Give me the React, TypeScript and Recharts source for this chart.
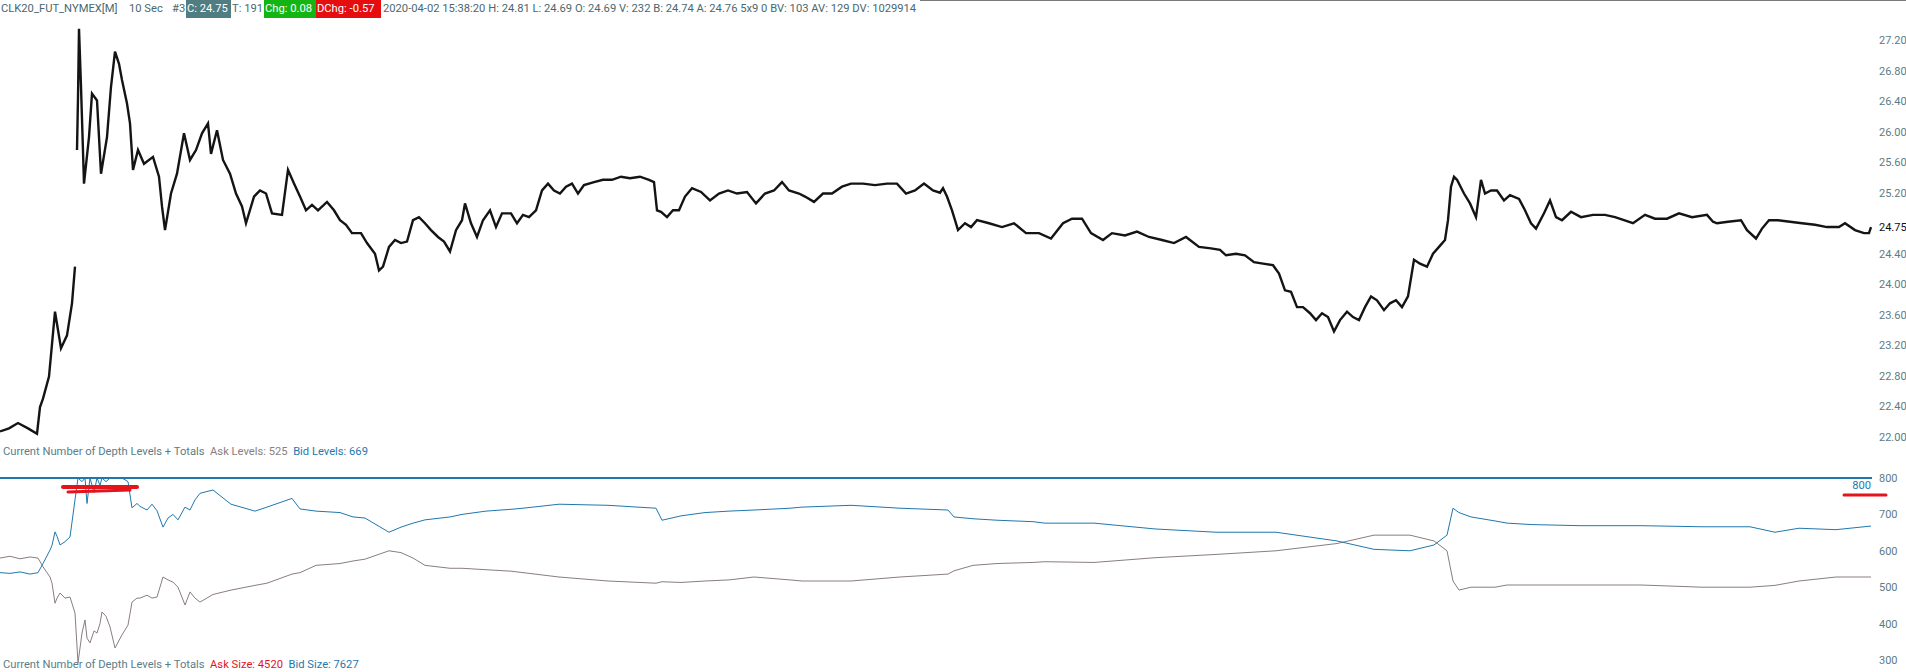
import { Line, LineChart, ReferenceLine, XAxis, YAxis } from "recharts";

// 10 sec bars, bar index along the session
const priceBar = [
  0, 9, 18, 28, 37, 40, 43, 49, 55, 61, 67, 72, 75, 76,
  77, 78, 79, 81, 84, 89, 92, 97, 101, 107, 111, 115, 119, 122, 127, 130, 133, 138, 144, 153, 159, 162, 165,
  171, 177, 184, 190, 196, 202, 208, 211, 217, 223, 230, 236, 242, 246, 254, 260, 266, 272, 282, 288, 294,
  300, 306, 312, 318, 327, 334, 340, 346, 352, 361, 367, 375, 379, 383, 389, 395, 401, 407, 413, 419, 425,
  431, 438, 444, 450, 456, 462, 465, 471, 477, 483, 490, 496, 502, 511, 517, 523, 529, 536, 542, 548, 554,
  560, 566, 572, 578, 584, 594, 603, 612, 621, 630, 640, 649, 654, 657, 661, 667, 673, 679, 685, 692, 701,
  710, 719, 728, 737, 747, 756, 765, 774, 782, 789, 799, 805, 814, 823, 832, 842, 851, 863, 875, 887, 897,
  906, 915, 924, 933, 940, 943, 947, 952, 955, 958, 965, 971, 977, 989, 1002, 1014, 1026, 1039, 1051, 1063,
  1072, 1082, 1091, 1103, 1112, 1125, 1137, 1149, 1162, 1174, 1186, 1199, 1211, 1220, 1226, 1236, 1245,
  1254, 1263, 1273, 1279, 1285, 1291, 1297, 1303, 1310, 1316, 1322, 1328, 1334, 1340, 1347, 1353, 1359,
  1365, 1371, 1377, 1384, 1390, 1396, 1402, 1408, 1414, 1420, 1427, 1433, 1439, 1445, 1448, 1451, 1454,
  1457, 1464, 1470, 1476, 1481, 1485, 1491, 1497, 1504, 1510, 1519, 1525, 1531, 1536, 1544, 1550, 1556,
  1562, 1571, 1581, 1593, 1605, 1615, 1624, 1633, 1645, 1655, 1667, 1679, 1692, 1707, 1713, 1717, 1728,
  1741, 1747, 1756, 1762, 1769, 1778, 1790, 1802, 1815, 1827, 1839, 1845, 1855, 1864, 1869, 1871,
];

const priceClose: (number | null)[] = [
  22.07, 22.11, 22.18, 22.11, 22.04, 22.39, 22.5, 22.79, 23.64, 23.16, 23.33, 23.75, 24.23, null,
  25.76, 26.45, 27.35, 26.59, 25.32, 25.93, 26.5, 26.41, 25.45, 25.93, 26.59, 27.05, 26.89, 26.68, 26.37, 26.11, 25.5, 25.76, 25.58, 25.67, 25.41, 25.02, 24.71,
  25.19, 25.45, 25.98, 25.63, 25.76, 25.98, 26.11, 25.71, 26.02, 25.63, 25.45, 25.19, 25.02, 24.8, 25.15, 25.23, 25.19, 24.93, 24.91, 25.5, 25.32,
  25.15, 24.97, 25.04, 24.97, 25.08, 24.97, 24.84, 24.78, 24.67, 24.67, 24.54, 24.4, 24.18, 24.23, 24.49, 24.58, 24.54, 24.56, 24.84, 24.88, 24.8,
  24.71, 24.62, 24.56, 24.43, 24.71, 24.84, 25.06, 24.8, 24.62, 24.84, 24.97, 24.75, 24.93, 24.93, 24.8, 24.91, 24.88, 24.97, 25.23, 25.32, 25.23,
  25.19, 25.28, 25.32, 25.19, 25.3, 25.34, 25.37, 25.37, 25.41, 25.39, 25.41, 25.37, 25.34, 24.97, 24.95, 24.88, 24.97, 24.97, 25.15, 25.26, 25.21,
  25.1, 25.19, 25.23, 25.19, 25.21, 25.06, 25.19, 25.23, 25.34, 25.23, 25.19, 25.15, 25.08, 25.19, 25.19, 25.28, 25.32, 25.32, 25.3, 25.32, 25.32,
  25.19, 25.23, 25.32, 25.23, 25.2, 25.26, 25.15, 24.97, 24.84, 24.71, 24.8, 24.75, 24.84, 24.8, 24.75, 24.8, 24.67, 24.67, 24.6, 24.8,
  24.86, 24.86, 24.67, 24.58, 24.67, 24.64, 24.69, 24.62, 24.58, 24.54, 24.62, 24.49, 24.47, 24.45, 24.38, 24.4, 24.38,
  24.29, 24.27, 24.25, 24.14, 23.92, 23.9, 23.7, 23.7, 23.62, 23.53, 23.62, 23.57, 23.38, 23.53, 23.64, 23.57, 23.53,
  23.7, 23.84, 23.79, 23.66, 23.75, 23.79, 23.7, 23.84, 24.32, 24.27, 24.23, 24.4, 24.49, 24.58, 24.84, 25.28, 25.41,
  25.37, 25.19, 25.06, 24.88, 25.37, 25.19, 25.23, 25.23, 25.1, 25.17, 25.12, 24.97, 24.8, 24.73, 24.93, 25.1, 24.88,
  24.84, 24.95, 24.88, 24.91, 24.91, 24.88, 24.84, 24.8, 24.91, 24.86, 24.86, 24.93, 24.88, 24.91, 24.82, 24.8, 24.82,
  24.84, 24.71, 24.6, 24.73, 24.84, 24.84, 24.82, 24.8, 24.78, 24.75, 24.75, 24.8, 24.71, 24.67, 24.67, 24.75,
];

const priceTicks = [27.2, 26.8, 26.4, 26.0, 25.6, 25.2, 24.75, 24.4, 24.0, 23.6, 23.2, 22.8, 22.4, 22.0];
const lastPrice = 24.75;

const depthBar = [
  0, 10, 20, 30, 38, 43, 50, 52, 55, 57, 60, 65, 70, 75, 78, 82, 85, 87, 90, 94, 97, 100, 102, 106, 110, 115,
  122, 128, 132, 137, 140, 147, 152, 157, 163, 168, 173, 178, 185, 190, 195, 200, 213, 231, 255, 267, 292, 300,
  316, 340, 353, 365, 389, 401, 413, 425, 450, 462, 486, 511, 523, 559, 608, 656, 662, 681, 705, 729, 754, 790,
  802, 851, 900, 948, 954, 973, 997, 1033, 1045, 1094, 1155, 1216, 1276, 1337, 1374, 1410, 1434, 1447, 1453,
  1459, 1471, 1495, 1507, 1532, 1580, 1641, 1702, 1750, 1775, 1799, 1836, 1871,
];
const askLevels = [
  580, 585, 578, 583, 580, 556, 528, 511, 456, 470, 484, 470, 473, 429, 292, 374, 410, 360, 347, 380, 374, 400, 432, 420, 391, 333,
  369, 396, 459, 470, 470, 478, 470, 473, 528, 520, 514, 500, 451, 487, 470, 459, 480, 492, 505, 511, 536, 540,
  560, 565, 572, 577, 600, 595, 580, 560, 552, 552, 548, 544, 540, 528, 517, 511, 515, 513, 517, 520, 528, 520,
  517, 517, 528, 536, 545, 560, 565, 568, 570, 568, 581, 590, 600, 620, 643, 643, 627, 600, 517,
  492, 500, 500, 506, 506, 506, 506, 500, 500, 505, 517, 528, 528,
];
// bid levels are pinned at the 800 display limit in the early part
const bidLevels = [
  540, 538, 542, 536, 540, 565, 602, 615, 652, 640, 616, 625, 638, 740, 800, 790, 800, 730, 800, 760, 800, 780, 800, 790, 800, 800,
  800, 790, 718, 730, 722, 712, 728, 710, 665, 690, 700, 685, 720, 712, 740, 758, 767, 728, 709, 720, 744, 715,
  709, 705, 693, 690, 651, 665, 676, 685, 693, 700, 709, 714, 717, 728, 725, 717, 684, 696, 705, 709, 712, 717,
  720, 725, 717, 712, 693, 688, 684, 680, 676, 676, 660, 651, 651, 627, 604, 600, 616, 643, 717,
  705, 693, 682, 676, 672, 669, 669, 666, 666, 651, 662, 658, 668,
];
const depthTicks = [800, 700, 600, 500, 400, 300];
const levelLimit = 800;

const priceData = priceBar.map((bar, i) => ({ bar, close: priceClose[i] }));
const depthData = depthBar.map((bar, i) => ({ bar, ask: askLevels[i], bid: bidLevels[i] }));

const FONT = "Roboto, 'Segoe UI', sans-serif";
const AXIS_GREY = "#5d7b84";
const BID_BLUE = "#1f78ad";
const ASK_GREY = "#8a7e7e";

function PriceTick({ x, y, payload }: any) {
  const isLast = payload.value === lastPrice;
  return (
    <text x={x} y={y} dy="0.36em" fontSize={11} fontFamily={FONT} fill={isLast ? "#111" : AXIS_GREY}>
      {Number(payload.value).toFixed(2)}
    </text>
  );
}

function DepthTick({ x, y, payload }: any) {
  return (
    <text x={x} y={y} dy="0.36em" fontSize={11} fontFamily={FONT} fill={AXIS_GREY}>
      {payload.value}
    </text>
  );
}

function LimitLabel({ viewBox }: any) {
  return (
    <text x={viewBox.x + viewBox.width - 1} y={viewBox.y + 11} textAnchor="end" fontSize={11.2} fontFamily={FONT} fill={BID_BLUE}>
      {levelLimit}
    </text>
  );
}

const box = (bg: string) => ({
  position: "absolute" as const,
  top: 0,
  height: 18,
  lineHeight: "18px",
  background: bg,
  color: "#fff",
  paddingLeft: 1,
});

function Header() {
  const txt = { position: "absolute" as const, top: 0, lineHeight: "18px", color: "#4a6870", whiteSpace: "pre" as const };
  return (
    <div style={{ position: "absolute", left: 0, top: 0, width: 1906, height: 18, fontSize: 11.2, fontFamily: FONT }}>
      <div style={{ position: "absolute", left: 920, top: 0, width: 986, height: 1, background: "#7a7a7a" }} />
      <span style={{ ...txt, left: 1 }}>CLK20_FUT_NYMEX[M]</span>
      <span style={{ ...txt, left: 129 }}>10 Sec</span>
      <span style={{ ...txt, left: 172 }}>#3</span>
      <span style={{ ...box("#4f7d82"), left: 186, width: 44 }}>C: 24.75</span>
      <span style={{ ...txt, left: 232 }}>T: 191</span>
      <span style={{ ...box("#12b512"), left: 264, width: 51 }}>Chg: 0.08</span>
      <span style={{ ...box("#e50d0d"), left: 316, width: 64 }}>DChg: -0.57</span>
      <span style={{ ...txt, left: 383 }}>
        2020-04-02 15:38:20 H: 24.81 L: 24.69 O: 24.69 V: 232 B: 24.74 A: 24.76 5x9 0 BV: 103 AV: 129 DV: 1029914
      </span>
    </div>
  );
}

function StudyTitle({ top, parts }: { top: number; parts: [string, string][] }) {
  return (
    <div style={{ position: "absolute", left: 3, top, fontSize: 11.2, fontFamily: FONT, whiteSpace: "pre", lineHeight: "12px" }}>
      {parts.map(([t, c], i) => (
        <span key={i} style={{ color: c }}>
          {t}
        </span>
      ))}
    </div>
  );
}

export default function App() {
  return (
    <div style={{ position: "absolute", left: 0, top: 0, width: 1906, height: 672, overflow: "hidden", background: "#fff" }}>
      <div style={{ position: "absolute", left: 0, top: 0 }}>
        <LineChart width={1906} height={460} data={priceData} margin={{ top: 25, right: 0, bottom: 8, left: 0 }}>
          <XAxis dataKey="bar" type="number" domain={[0, 1872]} hide />
          <YAxis
            orientation="right"
            width={34}
            domain={[21.8, 27.4]}
            ticks={priceTicks}
            interval={0}
            axisLine={false}
            tickLine={false}
            tickMargin={1}
            tick={<PriceTick />}
          />
          <Line type="linear" dataKey="close" stroke="#141414" strokeWidth={2.4} dot={false} connectNulls={false} isAnimationActive={false} />
        </LineChart>
      </div>

      <StudyTitle
        top={446}
        parts={[
          ["Current Number of Depth Levels + Totals  ", "#5b7d88"],
          ["Ask Levels: 525  ", ASK_GREY],
          ["Bid Levels: 669", BID_BLUE],
        ]}
      />

      <div style={{ position: "absolute", left: 0, top: 468 }}>
        <LineChart width={1906} height={204} data={depthData} margin={{ top: 10, right: 0, bottom: 0, left: 0 }}>
          <XAxis dataKey="bar" type="number" domain={[0, 1872]} hide />
          <YAxis
            orientation="right"
            width={34}
            domain={[267, 800]}
            ticks={depthTicks}
            interval={0}
            axisLine={false}
            tickLine={false}
            tickMargin={1}
            tick={<DepthTick />}
          />
          <Line type="linear" dataKey="ask" stroke={ASK_GREY} strokeWidth={1} dot={false} isAnimationActive={false} />
          <Line type="linear" dataKey="bid" stroke={BID_BLUE} strokeWidth={1} dot={false} isAnimationActive={false} />
          <ReferenceLine y={levelLimit} stroke={BID_BLUE} strokeWidth={2} label={<LimitLabel />} />
        </LineChart>
      </div>

      <StudyTitle
        top={659}
        parts={[
          ["Current Number of Depth Levels + Totals  ", "#5b7d88"],
          ["Ask Size: 4520  ", "#e3141b"],
          ["Bid Size: 7627", BID_BLUE],
        ]}
      />

      <svg width={1906} height={672} style={{ position: "absolute", left: 0, top: 0, pointerEvents: "none" }}>
        <path d="M63 487 L137 487" stroke="#e3141b" strokeWidth={4} strokeLinecap="round" />
        <path d="M68 492 L130 490" stroke="#e3141b" strokeWidth={3} strokeLinecap="round" />
        <path d="M1844 495 L1886 495" stroke="#e3141b" strokeWidth={3} strokeLinecap="round" />
      </svg>

      <Header />
    </div>
  );
}
